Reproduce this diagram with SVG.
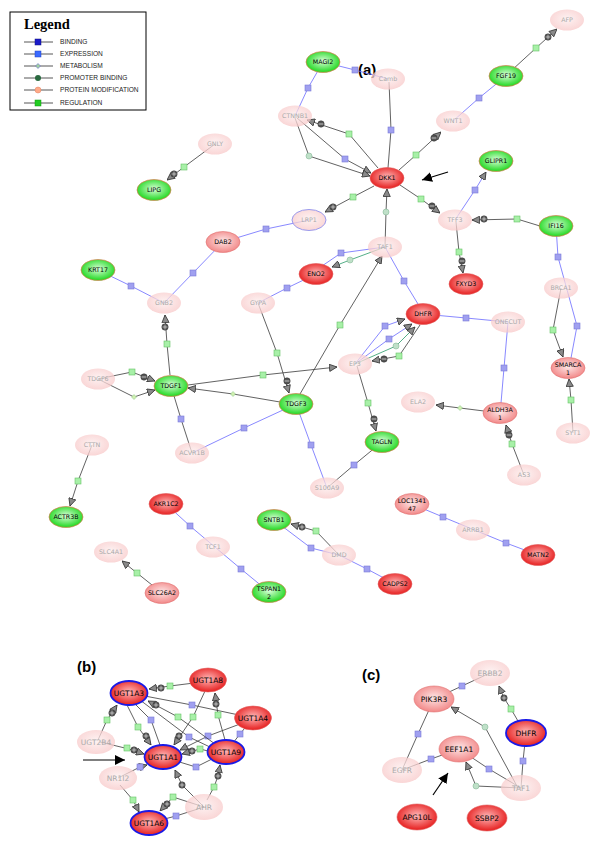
<svg xmlns="http://www.w3.org/2000/svg" width="600" height="846" viewBox="0 0 600 846">
<defs>
<radialGradient id="gR" cx="50%" cy="45%" r="55%"><stop offset="0" stop-color="#ffb8b8"/><stop offset="1" stop-color="#e61e1e"/></radialGradient>
<radialGradient id="gL" cx="50%" cy="45%" r="55%"><stop offset="0" stop-color="#fde6e6"/><stop offset="1" stop-color="#f28888"/></radialGradient>
<radialGradient id="gG" cx="50%" cy="45%" r="55%"><stop offset="0" stop-color="#d8ffd8"/><stop offset="1" stop-color="#1ed81e"/></radialGradient>
<radialGradient id="gP" cx="50%" cy="45%" r="55%"><stop offset="0" stop-color="#fdeeee"/><stop offset="1" stop-color="#f8c8c8"/></radialGradient>
<marker id="ah" viewBox="0 0 10 10" refX="10" refY="5" markerWidth="8" markerHeight="8" markerUnits="userSpaceOnUse" orient="auto"><path d="M0.5,0.5 L10,5 L0.5,9.5 z" fill="#8a8a8a" stroke="#333" stroke-width="1"/></marker>
<marker id="bk" viewBox="0 0 10 10" refX="10" refY="5" markerWidth="10" markerHeight="10" markerUnits="userSpaceOnUse" orient="auto"><path d="M0,0 L10,5 L0,10 z" fill="#000"/></marker>
<g id="sg"><rect x="-3" y="-3" width="6" height="6" fill="#a8f0a8" stroke="#66c266" stroke-width="0.6"/></g>
<g id="sb"><rect x="-3" y="-3" width="6" height="6" fill="#a0a0f0" stroke="#7a7ad8" stroke-width="0.6"/></g>
<g id="cg"><circle r="3" fill="#bfe0c8" stroke="#86b898" stroke-width="0.6"/></g>
<g id="dm"><path d="M0,-2.5 L2.5,0 L0,2.5 L-2.5,0z" fill="#d0f0b0" stroke="#80c080" stroke-width="0.5"/></g>
<g id="pl"><circle r="3.2" fill="#555" stroke="#2a2a2a" stroke-width="0.5"/><path d="M-2.4,0H2.4M0,-2.4V2.4" stroke="#ddd" stroke-width="0.7"/></g>
<g id="mi"><circle r="3.2" fill="#555" stroke="#2a2a2a" stroke-width="0.5"/><path d="M-2.4,0H2.4" stroke="#ddd" stroke-width="0.8"/></g>
</defs>
<style>
.d{fill:none;stroke:#3a3a3a;stroke-width:0.8}
.b{fill:none;stroke:#6a6aff;stroke-width:0.8}
.t{fill:none;stroke:#2a9a6a;stroke-width:0.8}
.a{marker-end:url(#ah)}
.red{fill:url(#gR);stroke:#e06060;stroke-width:0.6}
.lr{fill:url(#gL);stroke:#e07070;stroke-width:0.6}
.gr{fill:url(#gG);stroke:#e07a50;stroke-width:0.7}
.pa{fill:url(#gP);fill-opacity:0.75;stroke:none}
.bl{stroke:#1a1ae6;stroke-width:1.8}
text{font-family:"DejaVu Sans","Noto Sans",sans-serif;text-anchor:middle}
.s{font-size:6.3px;fill:#000}
.sp{font-size:6.3px;fill:#aaa}
.m{font-size:7.5px;fill:#000}
.mp{font-size:7.5px;fill:#aaa}
.lg{font-family:"Liberation Sans",Arial,sans-serif;font-size:6.6px;text-anchor:start;fill:#222}
.pl{font-family:"Liberation Sans",Arial,sans-serif;font-size:15px;font-weight:bold;text-anchor:start;fill:#000}
</style>
<rect width="600" height="846" fill="#fff"/>

<g id="legend">
<rect x="10" y="12" width="136" height="98" fill="#fff" stroke="#000" stroke-width="1"/>
<text x="24" y="29" style="font-family:'Liberation Serif',serif;font-size:14.5px;font-weight:bold;text-anchor:start">Legend</text>
<path d="M24,42H53M24,54H53M24,66H53M24,78H53M24,90H53M24,103H53" stroke="#444" stroke-width="0.9"/>
<rect x="35" y="39" width="6" height="6" fill="#1a1ac8" stroke="#101080" stroke-width="0.5"/>
<rect x="35" y="51" width="6" height="6" fill="#3a6aff" stroke="#2040c0" stroke-width="0.5"/>
<path d="M38,63.5 L40.5,66 L38,68.5 L35.5,66z" fill="#a0d0a0" stroke="#6a6ad0" stroke-width="0.6"/>
<circle cx="38" cy="78" r="3" fill="#2a6a40"/>
<circle cx="38" cy="90" r="3" fill="#ffaa88" stroke="#e08060" stroke-width="0.5"/>
<rect x="35" y="100" width="6" height="6" fill="#22cc22" stroke="#119911" stroke-width="0.5"/>
<text class="lg" x="60" y="44">BINDING</text>
<text class="lg" x="60" y="56">EXPRESSION</text>
<text class="lg" x="60" y="68">METABOLISM</text>
<text class="lg" x="60" y="80">PROMOTER BINDING</text>
<text class="lg" x="60" y="92">PROTEIN MODIFICATION</text>
<text class="lg" x="60" y="105">REGULATION</text>
</g>

<g id="labels">
<text class="pl" x="358" y="75">(a)</text>
<text class="pl" x="77" y="672">(b)</text>
<text class="pl" x="362" y="680">(c)</text>
</g>

<g id="connectors">
<!-- panel a -->
<path class="d a" d="M512,70 L536,48 L557,29"/><use href="#sg" x="536" y="48"/><use href="#pl" x="548" y="37"/>
<path class="b" d="M506,76 L479,98 L453,121"/><use href="#sb" x="479" y="98"/>
<path class="b" d="M323,62 L355,70 L388,79"/><use href="#sb" x="355" y="70"/>
<path class="b" d="M323,62 L308,88 L295,116"/><use href="#sb" x="308" y="88"/>
<path class="d" d="M389,82 L391,130 L388,168"/><use href="#sb" x="391" y="130"/>
<path class="d a" d="M378,168 L349,134 L307,120"/><use href="#sg" x="349" y="134"/><use href="#mi" x="321" y="124"/>
<path class="d a" d="M297,118 L345,159 L371,173"/><use href="#sb" x="345" y="159"/>
<path class="d a" d="M295,118 L309,156 L370,176"/><use href="#cg" x="309" y="156"/>
<path class="d a" d="M399,170 L416,155 L441,132"/><use href="#sg" x="416" y="155"/><use href="#mi" x="434" y="138"/>
<path class="b a" d="M455,220 L475,190 L486,172"/><use href="#sb" x="475" y="190"/>
<path class="d a" d="M215,144 L184,167 L167,180"/><use href="#sg" x="184" y="167"/><use href="#pl" x="174" y="174"/>
<path class="d a" d="M374,186 L353,197 L325,212"/><use href="#sg" x="353" y="197"/><use href="#pl" x="333" y="207"/>
<path class="b" d="M223,242 L266,229 L309,220"/><use href="#sb" x="266" y="229"/>
<path class="b" d="M223,242 L193,273 L164,303"/><use href="#sb" x="193" y="273"/>
<path class="b" d="M98,270 L131,286 L164,303"/><use href="#sb" x="131" y="286"/>
<path class="b" d="M316,274 L287,288 L258,303"/><use href="#sb" x="287" y="288"/>
<path class="d a" d="M385,247 L386,212 L387,189"/><use href="#cg" x="386" y="212"/>
<path class="d a" d="M400,185 L421,199 L440,213"/><use href="#sg" x="421" y="199"/><use href="#mi" x="432" y="206"/>
<path class="d a" d="M540,226 L517,219 L472,220"/><use href="#sg" x="517" y="219"/><use href="#pl" x="484" y="219"/>
<path class="d a" d="M456,222 L459,252 L463,273"/><use href="#sg" x="459" y="252"/><use href="#mi" x="462" y="261"/>
<path class="b" d="M385,247 L341,253 L322,266"/><use href="#sb" x="341" y="253"/>
<path class="t a" d="M385,247 L350,260 L332,267"/><use href="#cg" x="350" y="260"/>
<path class="b" d="M385,247 L404,281 L418,304"/><use href="#sb" x="404" y="281"/>
<path class="d a" d="M300,394 L340,325 L382,256"/><use href="#sg" x="340" y="325"/>
<path class="b" d="M556,226 L558,257 L577,326 L571,358"/><use href="#sb" x="558" y="257"/><use href="#sb" x="577" y="326"/>
<path class="d a" d="M561,288 L553,330 L563,357"/><use href="#sg" x="553" y="330"/>
<path class="d a" d="M573,433 L571,400 L569,379"/><use href="#sg" x="571" y="400"/>
<path class="b" d="M423,314 L466,318 L508,322"/><use href="#sb" x="466" y="318"/>
<path class="b" d="M508,322 L504,368 L501,403"/><use href="#sb" x="504" y="368"/>
<path class="b a" d="M355,364 L385,326 L405,319"/><use href="#sb" x="385" y="326"/>
<path class="b a" d="M355,364 L389,339 L412,324"/><use href="#sb" x="389" y="339"/>
<path class="t a" d="M355,364 L396,346 L415,327"/><use href="#cg" x="396" y="346"/>
<path class="d a" d="M420,325 L399,356 L372,361"/><use href="#sg" x="399" y="356"/><use href="#mi" x="384" y="359"/>
<path class="d a" d="M188,385 L263,375 L337,367"/><use href="#sg" x="263" y="375"/>
<path class="d a" d="M357,366 L368,403 L376,431"/><use href="#sg" x="368" y="403"/><use href="#mi" x="374" y="419"/>
<path class="d a" d="M258,303 L277,353 L289,393"/><use href="#sg" x="277" y="353"/><use href="#mi" x="287" y="381"/>
<path class="d a" d="M280,402 L233,394 L188,388"/><use href="#dm" x="233" y="394"/>
<path class="d a" d="M170,375 L167,344 L165,315"/><use href="#sg" x="167" y="344"/><use href="#pl" x="165" y="327"/>
<path class="d a" d="M98,379 L132,372 L155,381"/><use href="#sg" x="132" y="372"/><use href="#mi" x="144" y="377"/>
<path class="d a" d="M98,379 L134,397 L155,390"/><use href="#dm" x="134" y="397"/>
<path class="d" d="M171,386 L181,419 L192,453"/><use href="#sb" x="181" y="419"/>
<path class="b" d="M296,404 L244,428 L192,453"/><use href="#sb" x="244" y="428"/>
<path class="b" d="M296,404 L311,445 L327,488"/><use href="#sb" x="311" y="445"/>
<path class="d" d="M382,442 L354,465 L327,488"/><use href="#sb" x="354" y="465"/>
<path class="d a" d="M92,445 L78,481 L70,506"/><use href="#sg" x="78" y="481"/>
<path class="b" d="M166,504 L190,526 L241,569 L269,592"/><use href="#sb" x="190" y="526"/><use href="#sb" x="241" y="569"/>
<path class="d a" d="M162,593 L137,573 L122,561"/><use href="#sg" x="137" y="573"/>
<path class="d a" d="M339,555 L316,531 L291,524"/><use href="#sg" x="316" y="531"/><use href="#pl" x="302" y="527"/>
<path class="b" d="M274,520 L311,548 L339,555 L367,569 L395,584"/><use href="#sb" x="311" y="548"/><use href="#sb" x="367" y="569"/>
<path class="d a" d="M500,413 L460,408 L436,405"/><use href="#dm" x="460" y="408"/>
<path class="d a" d="M524,475 L512,444 L506,425"/><use href="#sg" x="512" y="444"/><use href="#mi" x="509" y="435"/>
<path class="b" d="M412,504 L443,517 L506,543 L538,555"/><use href="#sb" x="443" y="517"/><use href="#sb" x="506" y="543"/>
<!-- panel b -->
<path class="d a" d="M194,683 L170,686 L149,689"/><use href="#sg" x="170" y="686"/><use href="#pl" x="161" y="688"/>
<path class="d a" d="M205,691 L193,717 L174,745"/><use href="#sg" x="193" y="717"/><use href="#pl" x="179" y="736"/>
<path class="d" d="M253,718 L192,705 L129,693"/><use href="#sb" x="192" y="705"/>
<path class="d a" d="M240,724 L208,736 L180,750"/><use href="#sb" x="208" y="736"/>
<path class="d a" d="M208,751 L200,749 L182,754"/><use href="#sg" x="200" y="749"/><use href="#pl" x="192" y="751"/>
<path class="d a" d="M225,740 L218,715 L215,693"/><use href="#sg" x="218" y="715"/><use href="#pl" x="216" y="704"/>
<path class="d a" d="M127,705 L138,727 L151,745"/><use href="#sg" x="138" y="727"/><use href="#pl" x="146" y="736"/>
<path class="d" d="M135,704 L151,720 L160,745"/><use href="#sb" x="151" y="720"/>
<path class="d a" d="M215,744 L178,717 L148,701"/><use href="#sg" x="178" y="717"/><use href="#pl" x="156" y="705"/>
<path class="d" d="M140,700 L189,737 L212,748"/><use href="#sb" x="189" y="737"/>
<path class="d" d="M226,752 L240,734 L253,718"/><use href="#sb" x="240" y="734"/>
<path class="d" d="M163,757 L196,767 L226,752"/><use href="#sb" x="196" y="767"/>
<path class="d a" d="M98,740 L107,720 L117,705"/><use href="#sg" x="107" y="720"/><use href="#pl" x="112" y="713"/>
<path class="d a" d="M100,742 L129,749 L144,754"/><use href="#sg" x="127" y="748"/><use href="#pl" x="134" y="750"/>
<path class="d a" d="M118,778 L140,767 L147,765"/><use href="#sb" x="140" y="767"/>
<path class="d a" d="M120,785 L133,800 L139,812"/><use href="#sg" x="133" y="800"/>
<path class="d a" d="M204,807 L182,785 L175,770"/><use href="#pl" x="182" y="785"/>
<path class="d a" d="M207,800 L214,787 L218,776 L220,765"/><use href="#sg" x="214" y="787"/><use href="#pl" x="218" y="776"/>
<path class="d a" d="M204,807 L173,797 L160,811"/><use href="#sg" x="173" y="797"/><use href="#pl" x="167" y="804"/>
<path class="d" d="M204,807 L176,816 L149,823"/><use href="#sb" x="176" y="816"/>
<!-- panel c -->
<path class="d" d="M434,699 L462,686 L490,673"/><use href="#sb" x="462" y="686"/>
<path class="d a" d="M518,721 L511,709 L504,698 L499,686"/><use href="#sg" x="511" y="709"/><use href="#pl" x="504" y="698"/>
<path class="d a" d="M518,788 L485,727 L451,707"/><use href="#cg" x="485" y="727"/>
<path class="d" d="M434,699 L418,734 L402,770"/><use href="#sb" x="418" y="734"/>
<path class="d" d="M402,770 L431,759 L459,749"/><use href="#sb" x="431" y="759"/>
<path class="d" d="M459,749 L489,769 L521,788"/><use href="#sb" x="489" y="769"/>
<path class="d a" d="M521,788 L476,786 L466,762"/><use href="#cg" x="476" y="786"/>
<path class="d" d="M526,733 L523,761 L521,788"/><use href="#sb" x="523" y="761"/>
<!-- annotation arrows -->
<path d="M448,172 L422,180" stroke="#000" stroke-width="1.2" marker-end="url(#bk)"/>
<path d="M83,760 L125,760" stroke="#000" stroke-width="1.2" marker-end="url(#bk)"/>
<path d="M433,795 L448,773" stroke="#000" stroke-width="1.2" marker-end="url(#bk)"/>
</g>

<!-- panel a nodes -->
<g id="AFP"><ellipse class="pa" cx="567" cy="20" rx="17" ry="10.5"/><text class="sp" x="567" y="22.3">AFP</text></g>
<g id="Camb"><ellipse class="pa" cx="388" cy="79" rx="17" ry="10.5"/><text class="sp" x="388" y="81.3">Camb</text></g>
<g id="CTNNB1"><ellipse class="pa" cx="295" cy="116" rx="17" ry="10.5"/><text class="sp" x="295" y="118.3">CTNNB1</text></g>
<g id="WNT1"><ellipse class="pa" cx="453" cy="121" rx="17" ry="10.5"/><text class="sp" x="453" y="123.3">WNT1</text></g>
<g id="GNLY"><ellipse class="pa" cx="215" cy="144" rx="17" ry="10.5"/><text class="sp" x="215" y="146.3">GNLY</text></g>
<g id="LRP1"><ellipse class="pa" cx="309" cy="220" rx="17" ry="10.5" style="stroke:#9a9aee;stroke-width:1"/><text class="sp" x="309" y="222.3">LRP1</text></g>
<g id="TFF3"><ellipse class="pa" cx="455" cy="220" rx="17" ry="10.5"/><text class="sp" x="455" y="222.3">TFF3</text></g>
<g id="TAF1"><ellipse class="pa" cx="385" cy="247" rx="17" ry="10.5"/><text class="sp" x="385" y="249.3">TAF1</text></g>
<g id="GNB2"><ellipse class="pa" cx="164" cy="303" rx="17" ry="10.5"/><text class="sp" x="164" y="305.3">GNB2</text></g>
<g id="GYPA"><ellipse class="pa" cx="258" cy="303" rx="17" ry="10.5"/><text class="sp" x="258" y="305.3">GYPA</text></g>
<g id="BRCA1"><ellipse class="pa" cx="561" cy="288" rx="17" ry="10.5"/><text class="sp" x="561" y="290.3">BRCA1</text></g>
<g id="ONECUT"><ellipse class="pa" cx="508" cy="322" rx="17" ry="10.5"/><text class="sp" x="508" y="324.3">ONECUT</text></g>
<g id="EP3"><ellipse class="pa" cx="355" cy="364" rx="17" ry="10.5"/><text class="sp" x="355" y="366.3">EP3</text></g>
<g id="TDGF6"><ellipse class="pa" cx="98" cy="379" rx="17" ry="10.5"/><text class="sp" x="98" y="381.3">TDGF6</text></g>
<g id="ELA2"><ellipse class="pa" cx="418" cy="402" rx="17" ry="10.5"/><text class="sp" x="418" y="404.3">ELA2</text></g>
<g id="CTTN"><ellipse class="pa" cx="92" cy="445" rx="17" ry="10.5"/><text class="sp" x="92" y="447.3">CTTN</text></g>
<g id="ACVR1B"><ellipse class="pa" cx="192" cy="453" rx="17" ry="10.5"/><text class="sp" x="192" y="455.3">ACVR1B</text></g>
<g id="SYT1"><ellipse class="pa" cx="573" cy="433" rx="17" ry="10.5"/><text class="sp" x="573" y="435.3">SYT1</text></g>
<g id="AS3"><ellipse class="pa" cx="524" cy="475" rx="17" ry="10.5"/><text class="sp" x="524" y="477.3">AS3</text></g>
<g id="S100A9"><ellipse class="pa" cx="327" cy="488" rx="17" ry="10.5"/><text class="sp" x="327" y="490.3">S100A9</text></g>
<g id="SLC4A1"><ellipse class="pa" cx="111" cy="552" rx="17" ry="10.5"/><text class="sp" x="111" y="554.3">SLC4A1</text></g>
<g id="TCF1"><ellipse class="pa" cx="213" cy="547" rx="17" ry="10.5"/><text class="sp" x="213" y="549.3">TCF1</text></g>
<g id="DMD"><ellipse class="pa" cx="339" cy="555" rx="17" ry="10.5"/><text class="sp" x="339" y="557.3">DMD</text></g>
<g id="ARRB1"><ellipse class="pa" cx="473" cy="530" rx="17" ry="10.5"/><text class="sp" x="473" y="532.3">ARRB1</text></g>

<g id="MAGI2"><ellipse class="gr" cx="323" cy="62" rx="17" ry="10.5"/><text class="s" x="323" y="64.3">MAGI2</text></g>
<g id="FGF19"><ellipse class="gr" cx="506" cy="76" rx="17" ry="10.5"/><text class="s" x="506" y="78.3">FGF19</text></g>
<g id="GLIPR1"><ellipse class="gr" cx="496" cy="161" rx="17" ry="10.5"/><text class="s" x="496" y="163.3">GLIPR1</text></g>
<g id="LIPG"><ellipse class="gr" cx="154" cy="190" rx="17" ry="10.5"/><text class="s" x="154" y="192.3">LIPG</text></g>
<g id="KRT17"><ellipse class="gr" cx="98" cy="270" rx="17" ry="10.5"/><text class="s" x="98" y="272.3">KRT17</text></g>
<g id="IFI16"><ellipse class="gr" cx="556" cy="226" rx="17" ry="10.5"/><text class="s" x="556" y="228.3">IFI16</text></g>
<g id="TDGF1"><ellipse class="gr" cx="171" cy="386" rx="17" ry="10.5"/><text class="s" x="171" y="388.3">TDGF1</text></g>
<g id="TDGF3"><ellipse class="gr" cx="296" cy="404" rx="17" ry="10.5"/><text class="s" x="296" y="406.3">TDGF3</text></g>
<g id="TAGLN"><ellipse class="gr" cx="382" cy="442" rx="17" ry="10.5"/><text class="s" x="382" y="444.3">TAGLN</text></g>
<g id="ACTR3B"><ellipse class="gr" cx="66" cy="517" rx="17" ry="10.5"/><text class="s" x="66" y="519.3">ACTR3B</text></g>
<g id="SNTB1"><ellipse class="gr" cx="274" cy="520" rx="17" ry="10.5"/><text class="s" x="274" y="522.3">SNTB1</text></g>
<g id="TSPAN12"><ellipse class="gr" cx="269" cy="592" rx="17" ry="10.5"/><text class="s" x="269" y="590.5">TSPAN1</text><text class="s" x="269" y="598.5">2</text></g>

<g id="DKK1"><ellipse class="red" cx="387" cy="178" rx="17" ry="10.5"/><text class="s" x="387" y="180.3">DKK1</text></g>
<g id="ENO2"><ellipse class="red" cx="316" cy="274" rx="17" ry="10.5"/><text class="s" x="316" y="276.3">ENO2</text></g>
<g id="FXYD3"><ellipse class="red" cx="466" cy="284" rx="17" ry="10.5"/><text class="s" x="466" y="286.3">FXYD3</text></g>
<g id="DHFR-a"><ellipse class="red" cx="423" cy="314" rx="17" ry="10.5"/><text class="s" x="423" y="316.3">DHFR</text></g>
<g id="AKR1C2"><ellipse class="red" cx="166" cy="504" rx="17" ry="10.5"/><text class="s" x="166" y="506.3">AKR1C2</text></g>
<g id="CADPS2"><ellipse class="red" cx="395" cy="584" rx="17" ry="10.5"/><text class="s" x="395" y="586.3">CADPS2</text></g>
<g id="MATN2"><ellipse class="red" cx="538" cy="555" rx="17" ry="10.5"/><text class="s" x="538" y="557.3">MATN2</text></g>

<g id="DAB2"><ellipse class="lr" cx="223" cy="242" rx="17" ry="10.5"/><text class="s" x="223" y="244.3">DAB2</text></g>
<g id="SMARCA1"><ellipse class="lr" cx="568" cy="368" rx="17" ry="10.5"/><text class="s" x="568" y="366.5">SMARCA</text><text class="s" x="568" y="374.5">1</text></g>
<g id="ALDH3A1"><ellipse class="lr" cx="500" cy="413" rx="17" ry="10.5"/><text class="s" x="500" y="411.5">ALDH3A</text><text class="s" x="500" y="419.5">1</text></g>
<g id="LOC134147"><ellipse class="lr" cx="412" cy="504" rx="17" ry="10.5"/><text class="s" x="412" y="502.5">LOC1341</text><text class="s" x="412" y="510.5">47</text></g>
<g id="SLC26A2"><ellipse class="lr" cx="162" cy="593" rx="17" ry="10.5"/><text class="s" x="162" y="595.3">SLC26A2</text></g>

<!-- panel b nodes -->
<g id="UGT2B4"><ellipse class="pa" cx="96" cy="742" rx="19" ry="12"/><text class="mp" x="96" y="744.7">UGT2B4</text></g>
<g id="NR1I2"><ellipse class="pa" cx="118" cy="778" rx="19" ry="12"/><text class="mp" x="118" y="780.7">NR1I2</text></g>
<g id="AHR"><ellipse class="pa" cx="204" cy="807" rx="19" ry="13"/><text class="mp" x="204" y="809.7">AHR</text></g>
<g id="UGT1A3"><ellipse class="red bl" cx="129" cy="693" rx="18.5" ry="12"/><text class="m" x="129" y="695.7">UGT1A3</text></g>
<g id="UGT1A8"><ellipse class="red" cx="208" cy="680" rx="18.5" ry="12"/><text class="m" x="208" y="682.7">UGT1A8</text></g>
<g id="UGT1A4"><ellipse class="red" cx="253" cy="718" rx="18.5" ry="12"/><text class="m" x="253" y="720.7">UGT1A4</text></g>
<g id="UGT1A1"><ellipse class="red bl" cx="163" cy="757" rx="18.5" ry="12"/><text class="m" x="163" y="759.7">UGT1A1</text></g>
<g id="UGT1A9"><ellipse class="red bl" cx="226" cy="752" rx="18.5" ry="12"/><text class="m" x="226" y="754.7">UGT1A9</text></g>
<g id="UGT1A6"><ellipse class="red bl" cx="149" cy="823" rx="18.5" ry="12"/><text class="m" x="149" y="825.7">UGT1A6</text></g>

<!-- panel c nodes -->
<g id="ERBB2"><ellipse class="pa" cx="490" cy="673" rx="20" ry="13"/><text class="mp" x="490" y="675.7">ERBB2</text></g>
<g id="EGFR"><ellipse class="pa" cx="402" cy="770" rx="20" ry="13"/><text class="mp" x="402" y="772.7">EGFR</text></g>
<g id="TAF1-c"><ellipse class="pa" cx="521" cy="788" rx="20" ry="13"/><text class="mp" x="521" y="790.7">TAF1</text></g>
<g id="PIK3R3"><ellipse class="lr" cx="434" cy="699" rx="20" ry="13"/><text class="m" x="434" y="701.7">PIK3R3</text></g>
<g id="EEF1A1"><ellipse class="lr" cx="459" cy="749" rx="20" ry="13"/><text class="m" x="459" y="751.7">EEF1A1</text></g>
<g id="DHFR-c"><ellipse class="red bl" cx="526" cy="733" rx="20" ry="13"/><text class="m" x="526" y="735.7">DHFR</text></g>
<g id="APG10L"><ellipse class="red" cx="417" cy="817" rx="20" ry="13"/><text class="m" x="417" y="819.7">APG10L</text></g>
<g id="SSBP2"><ellipse class="red" cx="487" cy="818" rx="20" ry="13"/><text class="m" x="487" y="820.7">SSBP2</text></g>
</svg>
